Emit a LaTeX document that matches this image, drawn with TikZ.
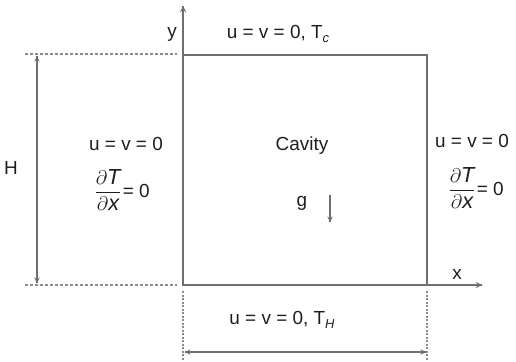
\documentclass[tikz,border=0pt]{standalone}
\usepackage{fontspec}
\setmainfont{Liberation Sans}
\usepackage{amsmath}
\usetikzlibrary{arrows,decorations.markings}
\definecolor{linegray}{HTML}{6E6E6E}
\definecolor{inkgray}{HTML}{1E1E1E}
\tikzstyle{wall} = [draw=linegray, line width=1.5bp]
\tikzstyle{guide} = [draw=linegray!80, line width=1.2bp, dash pattern=on 3bp off 2bp]
\tikzstyle{cond} = [text=inkgray, inner sep=0pt, font=\fontsize{19}{22}\selectfont]
\newcommand{\lowsub}[1]{\raisebox{-0.45ex}{\fontsize{13}{15}\selectfont\itshape #1}}
\newcommand{\gradzero}{\scalebox{1.15}{$\dfrac{\partial\text{\itshape T}\rule[-2bp]{0pt}{0pt}}{\rule{0pt}{11bp}\partial\text{\itshape x}}$}\hspace{1bp}= 0}

\begin{document}
\begin{tikzpicture}[x=1bp, y=-1bp, node distance=46bp]
    \tikzset{myptr/.style={decoration={markings,mark=at position 1 with %
    {\arrow[scale=1.1,>=stealth]{>}}},postaction={decorate}}}
    \tikzset{dimptr/.style={decoration={markings,mark=at position 0 with %
    {\arrowreversed[scale=1.1,>=stealth]{>}},mark=at position 1 with %
    {\arrow[scale=1.1,>=stealth]{>}}},postaction={decorate}}}
\useasboundingbox (0,0) rectangle (516,361);

\coordinate (SW) at (183,285);
\coordinate (NW) at (183,55);
\coordinate (NE) at (427,55);
\coordinate (SE) at (427,285);
\coordinate (ytip) at (183,6);
\coordinate (xtip) at (482,285);

% cavity and axes
\draw [wall] (SW) rectangle (NE);
\draw [wall, myptr] (NW) -- (ytip);
\draw [wall, myptr] (SE) -- (xtip);

% height H
\coordinate (Htop0) at (25,54);
\coordinate (Htop1) at (177,54);
\coordinate (Hbot0) at (25,285);
\coordinate (Hbot1) at (177,285);
\coordinate (Harr0) at (37,56);
\coordinate (Harr1) at (37,283);
\draw [guide] (Htop0) -- (Htop1);
\draw [guide] (Hbot0) -- (Hbot1);
\draw [wall, line width=1.2bp, dimptr] (Harr0) -- (Harr1);

% width
\coordinate (Wl0) at (183,291);
\coordinate (Wl1) at (183,361);
\coordinate (Wr0) at (427,291);
\coordinate (Wr1) at (427,361);
\coordinate (Warr0) at (185,352);
\coordinate (Warr1) at (426,352);
\draw [guide, dash pattern=on 2bp off 1.5bp] (Wl0) -- (Wl1);
\draw [guide, dash pattern=on 2bp off 1.5bp] (Wr0) -- (Wr1);
\draw [wall, line width=1.2bp, dimptr] (Warr0) -- (Warr1);

% gravity
\coordinate (gtop) at (330,195);
\coordinate (gbot) at (330,222);
\draw [wall, line width=1.2bp, myptr] (gtop) -- (gbot);

% labels
\node (ylab) [cond] at (172,34) {y};
\node (xlab) [cond] at (457,274) {x};
\node (Hlab) [cond] at (11,168) {H};
\node (cavity) [cond] at (302,146) {Cavity};
\node (glab) [cond] at (302,203) {g};
\node (top) [cond] at (278,34) {u = v = 0, T\lowsub{c}};
\node (bottom) [cond] at (282,320) {u = v = 0, T\lowsub{H}};
\node (left) [cond] at (126,144) {u = v = 0};
\node (leftgrad) [cond, below of=left, xshift=-4bp] {\gradzero};
\node (right) [cond] at (472,141) {u = v = 0};
\node (rightgrad) [cond, below of=right, xshift=4bp, yshift=-1bp] {\gradzero};
\end{tikzpicture}
\end{document}
